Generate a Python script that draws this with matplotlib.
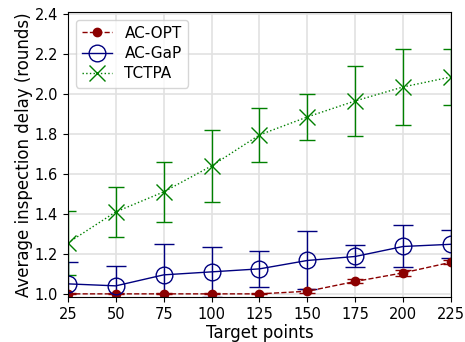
import numpy as np
import matplotlib.pyplot as plt

targets = [25, 50, 75, 100, 125, 150, 175, 200, 225]

opt_mean = [1.0, 1.0, 1.0, 1.0, 1.0, 1.013, 1.062, 1.105, 1.158]
opt_err = [0.003, 0.003, 0.003, 0.003, 0.003, 0.01, 0.01, 0.015, 0.01]

gap_mean = [1.05, 1.04, 1.095, 1.11, 1.125, 1.167, 1.187, 1.237, 1.248]
gap_err = [0.11, 0.10, 0.155, 0.125, 0.09, 0.145, 0.055, 0.105, 0.07]

tctpa_mean = [1.255, 1.41, 1.51, 1.64, 1.795, 1.885, 1.965, 2.035, 2.085]
tctpa_err = [0.16, 0.125, 0.15, 0.18, 0.135, 0.117, 0.175, 0.19, 0.14]

fig = plt.figure(figsize=(4.65, 3.42), dpi=100)
ax = fig.add_axes([0.146, 0.132, 0.824, 0.833])

ax.errorbar(targets, opt_mean, yerr=opt_err, color='darkred', fmt='--o',
            markersize=6, linewidth=1, capsize=6, label='AC-OPT')
ax.errorbar(targets, gap_mean, yerr=gap_err, color='navy', fmt='-o',
            markersize=12, markerfacecolor='none', linewidth=1, capsize=7,
            label='AC-GaP')
ax.errorbar(targets, tctpa_mean, yerr=tctpa_err, color='green', fmt=':x',
            markersize=12, linewidth=1, capsize=6, label='TCTPA')

ax.set_xlim(25, 225)
ax.set_ylim(0.985, 2.41)
ax.set_xticks(targets)
ax.set_yticks(np.arange(1.0, 2.41, 0.2))
ax.tick_params(labelsize=10.5)
ax.grid(True, color='#e2e2e2', linewidth=1.2)
ax.set_axisbelow(True)
ax.set_xlabel('Target points', fontsize=12, labelpad=2)
ax.set_ylabel('Average inspection delay (rounds)', fontsize=12, labelpad=1)

# legend shows only the line + marker, not the error bars
handles, labels = ax.get_legend_handles_labels()
ax.legend([h[0] for h in handles], labels, loc='upper left', fontsize=11,
          labelspacing=0.35)

fig.savefig('out.png')
